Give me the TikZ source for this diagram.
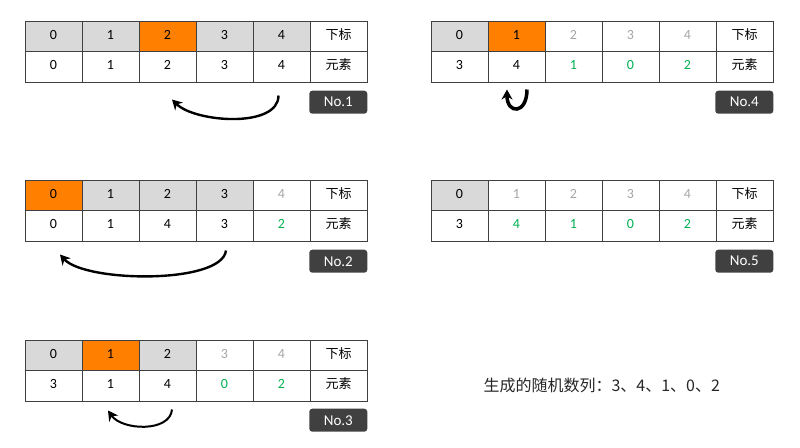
\documentclass[tikz,border=0pt]{standalone}
\usepackage{fontspec}
\setmainfont{Carlito}
\newfontfamily\cjk{Noto Sans CJK SC}
\usetikzlibrary{positioning,arrows.meta}

\definecolor{cgray}{HTML}{D9D9D9}
\definecolor{corange}{HTML}{FF8000}
\definecolor{cfaded}{HTML}{A6A6A6}
\definecolor{cgreen}{HTML}{00B050}
\definecolor{cline}{HTML}{404040}
\definecolor{ctag}{HTML}{404040}

% one table: name, left x, top y, cells (fill/index colour/element/element colour)
\newcommand{\arrtable}[4]{%
  \foreach \bg/\ic/\v/\vc [count=\i from 0] in {#4} {
    \node[cell, fill=\bg, text=\ic] (#1i\i) at ({#2+28.5+57*\i},{-#3-15.25}) {\i};
    \node[cell, text=\vc] (#1e\i) at ({#2+28.5+57*\i},{-#3-45.75}) {\v};
  }
  \node[cell] (#1i5) at ({#2+313.5},{-#3-15.25}) {\cjk\fontsize{13}{13}\selectfont 下标};
  \node[cell] (#1e5) at ({#2+313.5},{-#3-45.75}) {\cjk\fontsize{13}{13}\selectfont 元素};
}

\begin{document}
\begin{tikzpicture}[x=1pt,y=1pt,
  cell/.style={draw=cline, line width=1pt, minimum width=57pt, minimum height=30.5pt,
    inner sep=0pt, text height=10pt, text depth=4pt, font=\fontsize{14}{14}\selectfont},
  tag/.style={fill=ctag, rounded corners=3pt, text=white, minimum width=58pt,
    minimum height=23pt, inner sep=0pt, font=\fontsize{15}{15}\selectfont},
  swaparrow/.style={line width=2.4pt, -{Stealth[length=10pt,width=11pt]}}]
\useasboundingbox (0,0) rectangle (800,-447);

\arrtable{t1}{25}{21}{cgray/black/0/black, cgray/black/1/black, corange/black/2/black, cgray/black/3/black, cgray/black/4/black}
\arrtable{t2}{25}{180}{corange/black/0/black, cgray/black/1/black, cgray/black/4/black, cgray/black/3/black, white/cfaded/2/cgreen}
\arrtable{t3}{25}{340}{cgray/black/3/black, corange/black/1/black, cgray/black/4/black, white/cfaded/0/cgreen, white/cfaded/2/cgreen}
\arrtable{t4}{431}{21}{cgray/black/3/black, corange/black/4/black, white/cfaded/1/cgreen, white/cfaded/0/cgreen, white/cfaded/2/cgreen}
\arrtable{t5}{431}{180}{cgray/black/3/black, white/cfaded/4/cgreen, white/cfaded/1/cgreen, white/cfaded/0/cgreen, white/cfaded/2/cgreen}

% step tags
\node[tag, below left=8pt and 0pt of t1e5.south east] (no1) {No.1};
\node[tag, below left=8pt and 0pt of t2e5.south east] (no2) {No.2};
\node[tag, below left=7pt and 0pt of t3e5.south east] (no3) {No.3};
\node[tag, below left=8pt and 0pt of t4e5.south east] (no4) {No.4};
\node[tag, below left=8pt and 0pt of t5e5.south east] (no5) {No.5};

% swaps
\coordinate (a1s) at ([xshift=-3pt,yshift=-13pt]t1e4.south);
\coordinate (a1e) at ([xshift=4.5pt,yshift=-17pt]t1e2.south);
\draw[swaparrow] (a1s) .. controls +(0,-33) and +(23,-23) .. (a1e);
\coordinate (a2s) at ([xshift=1.5pt,yshift=-9pt]t2e3.south);
\coordinate (a2e) at ([xshift=6.5pt,yshift=-13pt]t2e0.south);
\draw[swaparrow] (a2s) .. controls +(-4,-34) and +(25,-28) .. (a2e);
\coordinate (a3s) at ([xshift=4.5pt,yshift=-8pt]t3e2.south);
\coordinate (a3e) at ([xshift=-2.5pt,yshift=-9pt]t3e1.south);
\draw[swaparrow, line width=2pt] (a3s) .. controls +(-2,-23) and +(14,-20) .. (a3e);
\coordinate (a4s) at ([xshift=10.5pt,yshift=-7pt]t4e1.south);
\coordinate (a4e) at ([xshift=-9.5pt,yshift=-7pt]t4e1.south);
\draw[swaparrow, line width=3.5pt] (a4s) .. controls +(0,-25) and +(0,-25) .. (a4e);

\node[anchor=west, text=black!85, font=\cjk\fontsize{16}{16}\selectfont] (seq) at (480,-385) {生成的随机数列：3、4、1、0、2};
\end{tikzpicture}
\end{document}
